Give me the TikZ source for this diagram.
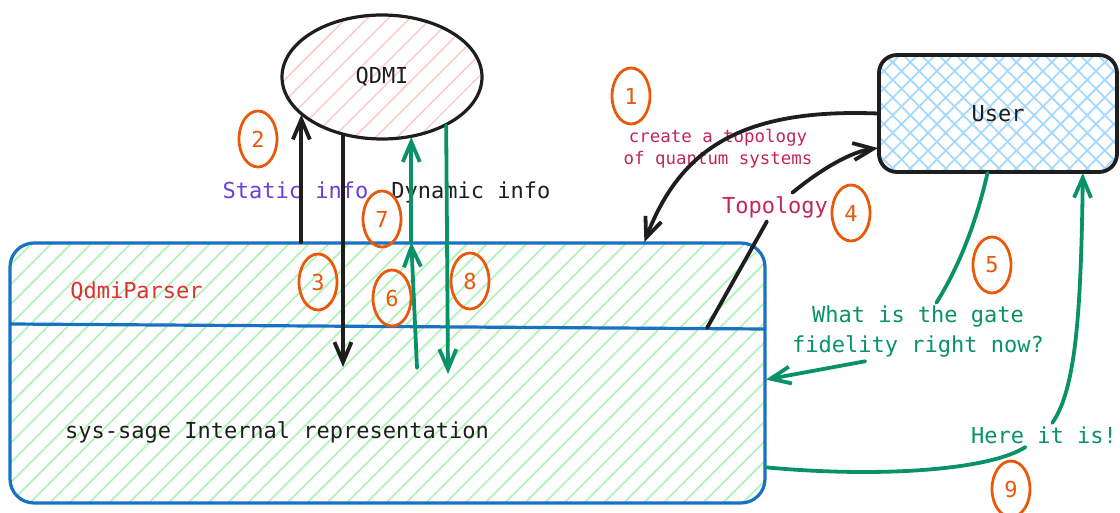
\documentclass[tikz,border=0pt]{standalone}
\usepackage{fontspec}
\setmonofont{DejaVu Sans Mono}
\usetikzlibrary{shapes.geometric,arrows.meta,patterns.meta,positioning}

\definecolor{ink}{HTML}{1E1E1E}
\definecolor{sageblue}{HTML}{1971C2}
\definecolor{sagegreen}{HTML}{B2F2BB}
\definecolor{qdmipink}{HTML}{FFC9C9}
\definecolor{userblue}{HTML}{A5D8FF}
\definecolor{steporange}{HTML}{E8590C}
\definecolor{flowgreen}{HTML}{099268}
\definecolor{parserred}{HTML}{E03131}
\definecolor{staticviolet}{HTML}{6741D9}
\definecolor{topocrimson}{HTML}{C2255C}

\tikzset{
  hand/.style={font=\ttfamily\fontsize{22}{30}\selectfont},
  smallhand/.style={font=\ttfamily\fontsize{17.4}{22}\selectfont},
  stepno/.style={ellipse,draw=steporange,line width=2.8pt,minimum width=38pt,
    minimum height=56pt,inner sep=0pt,text=steporange,hand},
  inkline/.style={draw=ink,line width=3.8pt,line cap=round},
  inkarrow/.style={inkline,-{Straight Barb[length=20pt,width=17pt]}},
  greenline/.style={draw=flowgreen,line width=3.8pt,line cap=round},
  greenarrow/.style={greenline,-{Straight Barb[length=20pt,width=17pt]}},
}

\begin{document}
\begin{tikzpicture}[x=1pt,y=-1pt]
  \useasboundingbox (0,0) rectangle (1120,513);
  \path
  node[draw=sageblue,line width=3.2pt,rounded corners=24pt,
    minimum width=755pt,minimum height=260pt,
    pattern={Lines[angle=45,distance=14pt,line width=1.8pt]},pattern color=sagegreen]
    (parser) at (387.5,373) {}
  node[ellipse,draw=ink,line width=3.2pt,minimum width=200pt,minimum height=124pt,
    pattern={Lines[angle=45,distance=15pt,line width=1.5pt]},pattern color=qdmipink]
    (qdmi) at (382,77) {}
  node[draw=ink,line width=3.8pt,rounded corners=18pt,
    minimum width=238pt,minimum height=117pt,
    preaction={pattern={Lines[angle=45,distance=12.5pt,line width=1.8pt]},pattern color=userblue},
    pattern={Lines[angle=-45,distance=12.5pt,line width=1.8pt]},pattern color=userblue]
    (user) at (998,113.5) {}
  ;
  \coordinate (divl) at (10,324);
  \coordinate (divr) at (765,329);
  \coordinate (t4) at (707,328);
  \coordinate (u4) at (878,148);
  \coordinate (e3) at (343,367);
  \coordinate (s6) at (417,368);
  \coordinate (e8) at (448,374);
  \draw[draw=sageblue,line width=3.2pt] (divl) -- (divr);

  \path
  node[hand,ink] at (qdmi) {QDMI}
  node[hand,ink] at (user) {User}
  node[hand,text=parserred] (parsername) at (136.5,292) {QdmiParser}
  node[hand,ink] (sysrep) at (277,432) {sys-sage Internal representation}
  node[hand,text=staticviolet] (static) at (295.5,190) {Static info}
  node[hand,ink,base right=16pt of static] (dynamic) {Dynamic info}
  node[smallhand,text=topocrimson,align=center] (create) at (718,149)
    {create a topology\\of quantum systems}
  node[hand,text=topocrimson] (topo) at (775,207) {Topology}
  node[hand,text=flowgreen,align=center] (gate) at (918,332)
    {What is the gate\\fidelity right now?}
  node[hand,text=flowgreen] (here) at (1044,435) {Here it is!}
  ;

  \draw[inkarrow] (user.west) .. controls (740,108) and (680,150) .. (parser.27.5);
  \draw[inkarrow] (qdmi.-155 |- parser.north) -- (qdmi.-155);
  \draw[inkarrow] (qdmi.-124) -- (qdmi.-124 |- e3);
  \draw[inkline] (t4) -- (topo);
  \draw[inkarrow] (topo) .. controls (820,170) and (850,152) .. (u4);
  \draw[greenline] (user.-100) .. controls (978,215) and (962,262) .. (gate);
  \draw[greenarrow] (gate.-151) -- (parser.-1.5);
  \draw[greenarrow] (s6) -- (qdmi.-64 |- parser.north);
  \draw[greenarrow] (qdmi.-64 |- parser.north) -- (qdmi.-64);
  \draw[greenarrow] (qdmi.-37) -- (e8);
  \draw[greenline] (parser.-14.7) .. controls (880,478) and (990,470) .. (here);
  \draw[greenarrow] (here) .. controls (1075,390) and (1081,320) .. (user.-35);

  \path
  node[stepno] (n1) at (631,96) {1}
  node[stepno] (n2) at (258,139) {2}
  node[stepno] (n3) at (318,282) {3}
  node[stepno] (n4) at (851,213) {4}
  node[stepno] (n5) at (992,265) {5}
  node[stepno] (n6) at (392,298) {6}
  node[stepno] (n7) at (382,219) {7}
  node[stepno] (n8) at (470,281) {8}
  node[stepno] (n9) at (1011,489) {9}
  ;
\end{tikzpicture}
\end{document}
